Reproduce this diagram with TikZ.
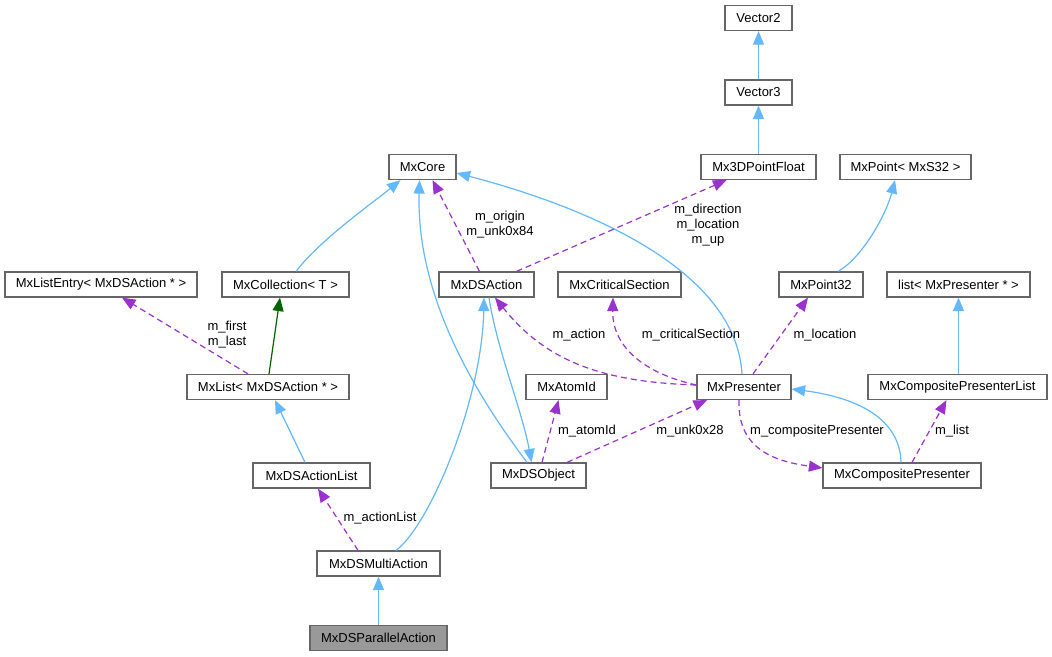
\documentclass[tikz,border=0pt]{standalone}
\usepackage{fontspec}
\setmainfont{Liberation Sans}
\usetikzlibrary{arrows.meta}
\definecolor{boxgray}{HTML}{666666}
\definecolor{inhblue}{HTML}{63B8FF}
\definecolor{usepurple}{HTML}{9A32CD}
\definecolor{tmplgreen}{HTML}{006400}
\definecolor{selfgray}{HTML}{999999}
\begin{document}
\begin{tikzpicture}[x=1pt,y=-1pt,
  cls/.style={draw=boxgray, line width=1.2pt, fill=white, minimum height=25pt, inner sep=0pt, font=\fontsize{13}{15}\selectfont},
  inh/.style={draw=inhblue, line width=1.2pt, -{Triangle[length=13.5pt,width=11pt]}},
  tmpl/.style={draw=tmplgreen, line width=1.2pt, -{Triangle[length=13.5pt,width=11pt]}},
  usage/.style={draw=usepurple, line width=1.2pt, dash pattern=on 6pt off 4pt, -{Triangle[length=13.5pt,width=11pt]}},
  lbl/.style={font=\fontsize{13}{15}\selectfont, align=center, inner sep=0pt}]
\useasboundingbox (0,0) rectangle (1052,656);
\fill[white] (0,0) rectangle (1052,656);
% nodes
\node[cls, minimum width=67pt] (Vector2) at (758.5,18) {Vector2};
\node[cls, minimum width=67pt] (Vector3) at (758.5,92.5) {Vector3};
\node[cls, minimum width=115pt] (Mx3DPointFloat) at (758.5,167) {Mx3DPointFloat};
\node[cls, minimum width=67pt] (MxCore) at (422.5,167) {MxCore};
\node[cls, minimum width=131pt] (MxPointS) at (905.5,167) {MxPoint< MxS32 >};
\node[cls, minimum width=192pt] (MxListEntry) at (101,284.5) {MxListEntry< MxDSAction * >};
\node[cls, minimum width=127pt] (MxCollection) at (285.5,284.5) {MxCollection< T >};
\node[cls, minimum width=95pt] (MxDSAction) at (486.5,284.5) {MxDSAction};
\node[cls, minimum width=123pt] (MxCriticalSection) at (619.5,284.5) {MxCriticalSection};
\node[cls, minimum width=84pt] (MxPoint32) at (821,284.5) {MxPoint32};
\node[cls, minimum width=143pt] (ListPres) at (958.5,284.5) {list< MxPresenter * >};
\node[cls, minimum width=162pt] (MxList) at (268,387) {MxList< MxDSAction * >};
\node[cls, minimum width=81pt] (MxAtomId) at (566.5,387) {MxAtomId};
\node[cls, minimum width=94pt] (MxPresenter) at (744,387) {MxPresenter};
\node[cls, minimum width=179pt] (MxCPList) at (957.5,387) {MxCompositePresenterList};
\node[cls, minimum width=117pt] (MxDSActionList) at (311.5,475.5) {MxDSActionList};
\node[cls, minimum width=95pt] (MxDSObject) at (538.5,475.5) {MxDSObject};
\node[cls, minimum width=158pt] (MxCP) at (902,475.5) {MxCompositePresenter};
\node[cls, minimum width=123pt] (MxDSMultiAction) at (378.5,563.5) {MxDSMultiAction};
\node[cls, minimum width=137pt, fill=selfgray] (MxDSParallelAction) at (378.5,638) {MxDSParallelAction};
% inheritance edges
\draw[inh] (Vector3.north) -- (Vector2.south);
\draw[inh] (Mx3DPointFloat.north) -- (Vector3.south);
\draw[inh] ([xshift=17pt]MxPoint32.north) .. controls (862,258) and (886,215) .. ([xshift=-10.5pt]MxPointS.south);
\draw[inh] (MxCPList.north -| ListPres.south) -- (ListPres.south);
\draw[inh] ([xshift=10.5pt]MxCollection.north) .. controls (320,240) and (370,205) .. ([xshift=-22pt]MxCore.south);
\draw[tmpl] ([xshift=1pt]MxList.north) -- ([xshift=-5.5pt]MxCollection.south);
\draw[inh] ([xshift=-6.5pt]MxDSActionList.north) -- ([xshift=7pt]MxList.south);
\draw[inh] ([xshift=17.5pt]MxDSMultiAction.north) .. controls (430,525) and (482,400) .. ([xshift=-2.5pt]MxDSAction.south);
\draw[inh] ([xshift=2.5pt]MxDSAction.south) .. controls (497,350) and (522,410) .. ([xshift=-7pt]MxDSObject.north);
\draw[inh] ([xshift=-11.5pt]MxDSObject.north) .. controls (480,400) and (416,300) .. ([xshift=-3pt]MxCore.south);
\draw[inh] ([xshift=-2pt]MxPresenter.north) .. controls (735,260) and (560,200) .. ([yshift=-6pt]MxCore.east);
\draw[inh] ([xshift=-1pt]MxCP.north) .. controls (900,420) and (860,398) .. ([yshift=-2pt]MxPresenter.east);
\draw[inh] (MxDSParallelAction.north) -- (MxDSMultiAction.south);
% usage edges
\draw[usage] ([xshift=-20pt]MxList.north) -- ([xshift=21pt]MxListEntry.south);
\draw[usage] ([xshift=-20.5pt]MxDSMultiAction.north) -- ([xshift=6.5pt]MxDSActionList.south);
\draw[usage] ([xshift=-7pt]MxDSAction.north) -- ([xshift=10pt]MxCore.south);
\draw[usage] ([xshift=30pt]MxDSAction.north) -- ([xshift=-32pt]Mx3DPointFloat.south);
\draw[usage] ([yshift=2pt]MxPresenter.west) .. controls (600,382) and (545,360) .. ([xshift=8.5pt]MxDSAction.south);
\draw[usage] ([yshift=2pt]MxPresenter.west) .. controls (650,375) and (612,350) .. ([xshift=-6.5pt]MxCriticalSection.south);
\draw[usage] ([xshift=9pt]MxPresenter.north) -- ([xshift=-13pt]MxPoint32.south);
\draw[usage] ([xshift=3.5pt]MxDSObject.north) -- ([xshift=-8pt]MxAtomId.south);
\draw[usage] ([xshift=28.5pt]MxDSObject.north) -- ([xshift=-37pt]MxPresenter.south);
\draw[usage] ([xshift=-5pt]MxPresenter.south) .. controls (737,452) and (780,462) .. ([yshift=7.5pt]MxCP.west);
\draw[usage] ([xshift=10pt]MxCP.north) -- ([xshift=-11pt]MxCPList.south);
% labels
\node[lbl] (lFirst) at (227,335) {m\_first\\m\_last};
\node[lbl] (lActionList) at (380,518) {m\_actionList};
\node[lbl] (lOrigin) at (500,225) {m\_origin\\m\_unk0x84};
\node[lbl] (lDirection) at (708,225) {m\_direction\\m\_location\\m\_up};
\node[lbl] (lAction) at (579,335) {m\_action};
\node[lbl] (lCrit) at (691,335) {m\_criticalSection};
\node[lbl] (lLocation) at (825,335) {m\_location};
\node[lbl] (lAtom) at (587,431) {m\_atomId};
\node[lbl] (lUnk) at (690,431) {m\_unk0x28};
\node[lbl] (lComp) at (817,431) {m\_compositePresenter};
\node[lbl] (lList) at (952,431) {m\_list};
\end{tikzpicture}
\end{document}
